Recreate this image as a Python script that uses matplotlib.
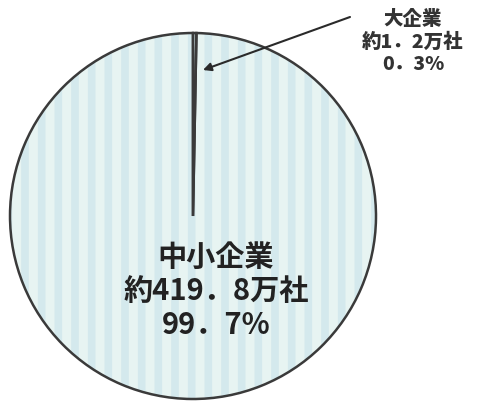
import matplotlib
matplotlib.use("Agg")
import matplotlib.pyplot as plt

plt.rcParams['font.family'] = ['Noto Sans CJK JP', 'DejaVu Sans']
plt.rcParams['hatch.linewidth'] = 5.5

# datos: porcentaje de empresas por tamano
categorias = ["大企業", "中小企業"]
empresas = ["約1．2万社", "約419．8万社"]
porcentajes = [0.3, 99.7]
etiquetas_pct = ["0．3%", "99．7%"]

fig = plt.figure(figsize=(4.78, 4.02), dpi=100)
ax = fig.add_axes([0, 0, 1, 1])

centro = (193, 185)
radio = 183

# relleno celeste
ax.pie(porcentajes, startangle=90, counterclock=False, center=centro, radius=radio,
       colors=["#e7f4f2", "#e7f4f2"], wedgeprops=dict(linewidth=0), frame=True)
# rayas verticales
ax.pie(porcentajes, startangle=90, counterclock=False, center=centro, radius=radio,
       wedgeprops=dict(facecolor="none", edgecolor="#d4e9ed", linewidth=0, hatch="|"), frame=True)
# contorno
ax.pie(porcentajes, startangle=90, counterclock=False, center=centro, radius=radio,
       wedgeprops=dict(facecolor="none", edgecolor="#3a3a3a", linewidth=1.8), frame=True)
ax.set_xlim(0, 478)
ax.set_ylim(0, 402)
ax.set_aspect("equal")
ax.axis("off")

# etiqueta del grande
ax.text(216, 111, categorias[1] + "\n" + empresas[1] + "\n" + etiquetas_pct[1],
        ha="center", va="center", fontsize=21, fontweight="bold", color="#222222",
        linespacing=1.15)

# etiqueta del chico con flecha
ax.text(413, 360, categorias[0] + "\n" + empresas[0] + "\n" + etiquetas_pct[0],
        ha="center", va="center", fontsize=14, fontweight="black", color="#333333",
        linespacing=1.2)
ax.annotate("", xy=(203, 331), xytext=(350, 384),
            arrowprops=dict(arrowstyle="-|>", color="#2a2a2a", lw=1.5,
                            mutation_scale=12, shrinkA=0, shrinkB=0))

fig.savefig("out.png", dpi=100)
